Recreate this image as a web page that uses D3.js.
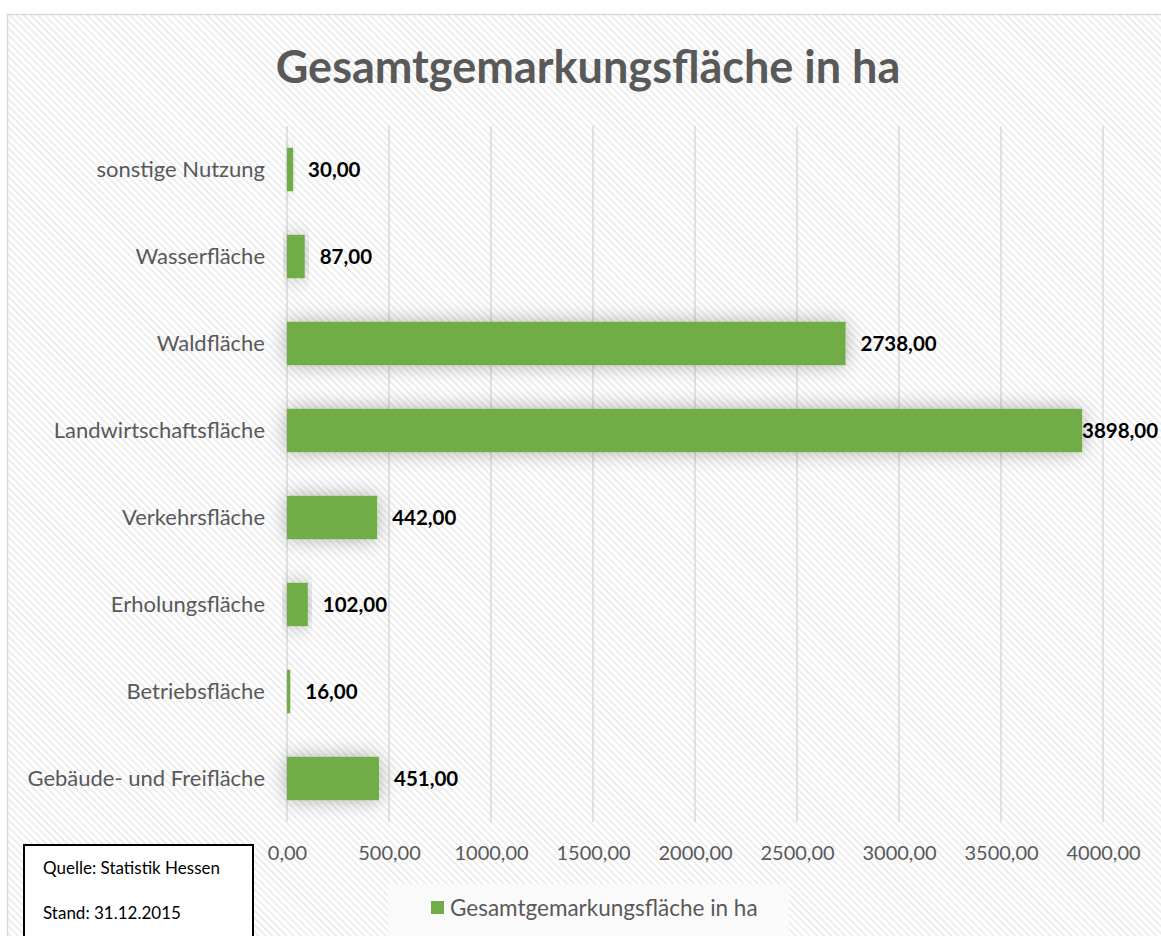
<!DOCTYPE html>
<html><head><meta charset="utf-8">
<script src="https://cdn.jsdelivr.net/npm/d3@7"></script>
<style>body{margin:0;background:#fff;}svg{display:block;font-family:Lato, "Open Sans", sans-serif;}</style>
</head><body>
<svg id="c" width="1161" height="936"></svg>
<script>
const categories = ["sonstige Nutzung","Wasserfläche","Waldfläche","Landwirtschaftsfläche","Verkehrsfläche","Erholungsfläche","Betriebsfläche","Gebäude- und Freifläche"];
const values = [30, 87, 2738, 3898, 442, 102, 16, 451];
const ticks = [0,500,1000,1500,2000,2500,3000,3500,4000];
const title = "Gesamtgemarkungsfläche in ha";
const seriesName = "Gesamtgemarkungsfläche in ha";
const notes = ["Quelle: Statistik Hessen","Stand: 31.12.2015"];

const fmt = v => d3.format(".2f")(v).replace(".", ",");
const svg = d3.select("#c");
const defs = svg.append("defs");
const pat = defs.append("pattern").attr("id","hatch").attr("patternUnits","userSpaceOnUse")
  .attr("width",5).attr("height",5).attr("patternTransform","rotate(-45)");
pat.append("rect").attr("width",5).attr("height",5).attr("fill","#ffffff");
pat.append("rect").attr("width",2).attr("height",5).attr("fill","#ededed");
const f = defs.append("filter").attr("id","glow").attr("x","-20%").attr("y","-100%").attr("width","140%").attr("height","300%");
f.append("feGaussianBlur").attr("in","SourceAlpha").attr("stdDeviation",10).attr("result","b");
f.append("feComponentTransfer").attr("in","b").attr("result","b2").append("feFuncA").attr("type","linear").attr("slope",0.3);
const m = f.append("feMerge"); m.append("feMergeNode").attr("in","b2"); m.append("feMergeNode").attr("in","SourceGraphic");

svg.append("rect").attr("width",1161).attr("height",936).attr("fill","#fff");
svg.append("rect").attr("x",7.5).attr("y",14.5).attr("width",1170).attr("height",940)
  .attr("fill","url(#hatch)").attr("stroke","#d9d9d9").attr("stroke-width",1.5);

svg.append("text").attr("x",588).attr("y",83).attr("text-anchor","middle")
  .attr("font-size",45).attr("font-weight","bold").attr("fill","#595959").text(title);

const x = d3.scaleLinear().domain([0,4000]).range([287,1103]);
const y = d3.scaleBand().domain(categories).range([126,822]).paddingInner(0.5).paddingOuter(0.25);

const g = svg.append("g");
g.selectAll("line.grid").data(ticks).join("line").attr("class","grid")
  .attr("x1",d=>x(d)).attr("x2",d=>x(d)).attr("y1",126).attr("y2",822)
  .attr("stroke","#d9d9d9").attr("stroke-width",1.5);

const xAxis = d3.axisBottom(x).tickValues(ticks).tickFormat(fmt).tickSize(0).tickPadding(0);
const ax = svg.append("g").attr("transform","translate(0,846)").call(xAxis);
ax.select(".domain").remove();
ax.selectAll("text").attr("font-size",20).attr("fill","#595959").attr("font-family","Lato, sans-serif").attr("dy","0.71em");

const yAxis = d3.axisLeft(y).tickSize(0).tickPadding(0);
const ay = svg.append("g").attr("transform","translate(265,0)").call(yAxis);
ay.select(".domain").remove();
ay.selectAll("text").attr("font-size",22).attr("fill","#595959").attr("font-family","Lato, sans-serif");

g.selectAll("rect.bar").data(values).join("rect").attr("class","bar")
  .attr("x",x(0)).attr("y",(d,i)=>y(categories[i])).attr("width",d=>x(d)-x(0))
  .attr("height",y.bandwidth()).attr("fill","#70ad47").attr("filter","url(#glow)");

g.selectAll("text.lbl").data(values).join("text").attr("class","lbl")
  .attr("x",d=>Math.min(x(d)+15, 1082)).attr("y",(d,i)=>y(categories[i])+y.bandwidth()/2)
  .attr("dy","0.36em").attr("font-size",20.5).attr("font-weight","bold").attr("fill","#000").text(fmt);

// legend
svg.append("rect").attr("x",388).attr("y",884).attr("width",401).attr("height",52).attr("fill","#fafafa").attr("opacity",0.85);
svg.append("rect").attr("x",431).attr("y",901).attr("width",13).attr("height",13).attr("fill","#70ad47");
svg.append("text").attr("x",450).attr("y",916).attr("font-size",22.5).attr("fill","#595959").text(seriesName);

// note box
svg.append("rect").attr("x",24).attr("y",845).attr("width",229).attr("height",100).attr("fill","#fff").attr("stroke","#000").attr("stroke-width",2);
svg.selectAll("text.note").data(notes).join("text").attr("class","note")
  .attr("x",43).attr("y",(d,i)=>874+i*45).attr("font-size",17).attr("fill","#000").text(d=>d);
</script>
</body></html>
